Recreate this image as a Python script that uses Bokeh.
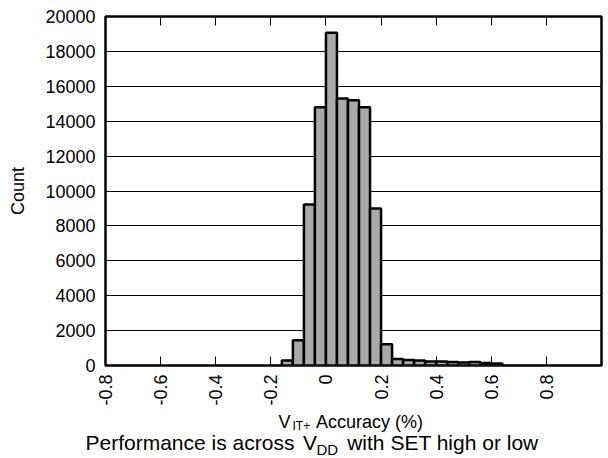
import math
from bokeh.plotting import figure
from bokeh.layouts import column
from bokeh.models import Range1d, FixedTicker, LinearAxis, Label, ColumnDataSource
from bokeh.embed import file_html
from bokeh.resources import INLINE

# ---- data ----
bin_left = [-0.16, -0.12, -0.08, -0.04, 0.00, 0.04, 0.08, 0.12, 0.16, 0.20,
            0.24, 0.28, 0.32, 0.36, 0.40, 0.44, 0.48, 0.52, 0.56, 0.60]
bin_width = 0.04
counts = [280, 1450, 9230, 14800, 19070, 15300, 15200, 14800, 8990, 1220,
          370, 320, 280, 230, 230, 200, 170, 200, 150, 110]

x_ticks = [-0.8, -0.6, -0.4, -0.2, 0, 0.2, 0.4, 0.6, 0.8]
x_tick_labels = ["-0.8", "-0.6", "-0.4", "-0.2", "0", "0.2", "0.4", "0.6", "0.8"]
y_ticks = [0, 2000, 4000, 6000, 8000, 10000, 12000, 14000, 16000, 18000, 20000]
y_tick_labels = ["0", "2000", "4000", "6000", "8000", "10000", "12000",
                 "14000", "16000", "18000", "20000"]

x_title_main = "V"
x_title_sub = "IT+"
x_title_rest = "Accuracy (%)"
y_title = "Count"
caption_a = "Performance is across"
caption_v = "V"
caption_sub = "DD"
caption_b = "with SET high or low"

FONT = "Liberation Sans"
W = 608

src = ColumnDataSource(dict(
    left=bin_left,
    right=[b + bin_width for b in bin_left],
    top=counts,
    bottom=[0] * len(counts),
))

p = figure(width=W, height=408, output_backend="svg", toolbar_location=None,
           x_range=Range1d(-0.8, 1.0), y_range=Range1d(0, 20000),
           min_border_left=105, min_border_top=16, min_border_right=7,
           min_border_bottom=40)
p.frame_align = False
p.background_fill_color = "white"
p.border_fill_color = "white"
p.outline_line_color = "black"
p.outline_line_width = 2.5

p.quad(left="left", right="right", top="top", bottom="bottom", source=src,
       fill_color="#a9a9a9", line_color="black", line_width=2.5)

# grid
p.xgrid.grid_line_color = None
p.ygrid.ticker = FixedTicker(ticks=y_ticks)
p.ygrid.grid_line_color = "black"
p.ygrid.grid_line_width = 1

# bottom axis
xa = p.xaxis[0]
xa.ticker = FixedTicker(ticks=x_ticks)
xa.major_label_overrides = dict(zip(x_ticks, x_tick_labels))
xa.major_label_orientation = math.pi / 2
xa.major_tick_in = 9
xa.major_tick_out = 0
xa.major_tick_line_color = "black"
xa.minor_tick_line_color = None
xa.axis_line_color = None
xa.major_label_standoff = 9
xa.major_label_text_font = FONT
xa.major_label_text_font_size = "18px"
xa.major_label_text_color = "black"

# top axis (ticks only)
ta = LinearAxis(ticker=FixedTicker(ticks=x_ticks))
ta.major_tick_in = 9
ta.major_tick_out = 0
ta.major_tick_line_color = "black"
ta.minor_tick_line_color = None
ta.axis_line_color = None
ta.major_label_text_font_size = "0px"
ta.major_label_text_color = None
ta.major_label_standoff = 0
p.add_layout(ta, "above")

# left axis
ya = p.yaxis[0]
ya.ticker = FixedTicker(ticks=y_ticks)
ya.major_label_overrides = dict(zip(y_ticks, y_tick_labels))
ya.major_tick_line_color = None
ya.minor_tick_line_color = None
ya.major_tick_in = 0
ya.major_tick_out = 0
ya.axis_line_color = None
ya.major_label_standoff = 10
ya.major_label_text_font = FONT
ya.major_label_text_font_size = "18px"
ya.major_label_text_color = "black"
ya.axis_label = y_title
ya.axis_label_text_font = FONT
ya.axis_label_text_font_size = "18px"
ya.axis_label_text_font_style = "normal"
ya.axis_label_text_color = "black"
ya.axis_label_standoff = 14

# ---- text strip below the chart (x title and caption) ----
H2 = 50
t = figure(width=W, height=H2, output_backend="svg", toolbar_location=None,
           x_range=Range1d(0, W), y_range=Range1d(0, H2),
           min_border=0, min_border_left=0, min_border_right=0,
           min_border_top=0, min_border_bottom=0,
           x_axis_location=None, y_axis_location=None)
t.frame_align = False
t.grid.visible = False
t.outline_line_color = None
t.background_fill_color = "white"
t.border_fill_color = "white"


def lab(text, x, y, size):
    t.add_layout(Label(x=x, y=y, text=text, text_font=FONT, text_font_size=size,
                       text_color="black", text_align="left",
                       text_baseline="alphabetic"))


# y positions are measured up from the bottom of this strip
lab(x_title_main, 278, 37, "18px")
lab(x_title_sub, 292, 33, "12px")
lab(x_title_rest, 315.5, 37, "18px")
lab(caption_a, 85, 16, "21px")
lab(caption_v, 302.5, 16, "21px")
lab(caption_sub, 316, 9.5, "15px")
lab(caption_b, 346.7, 16, "21px")

layout = column(p, t, spacing=0)
open("out.html", "w").write(file_html(layout, INLINE))
